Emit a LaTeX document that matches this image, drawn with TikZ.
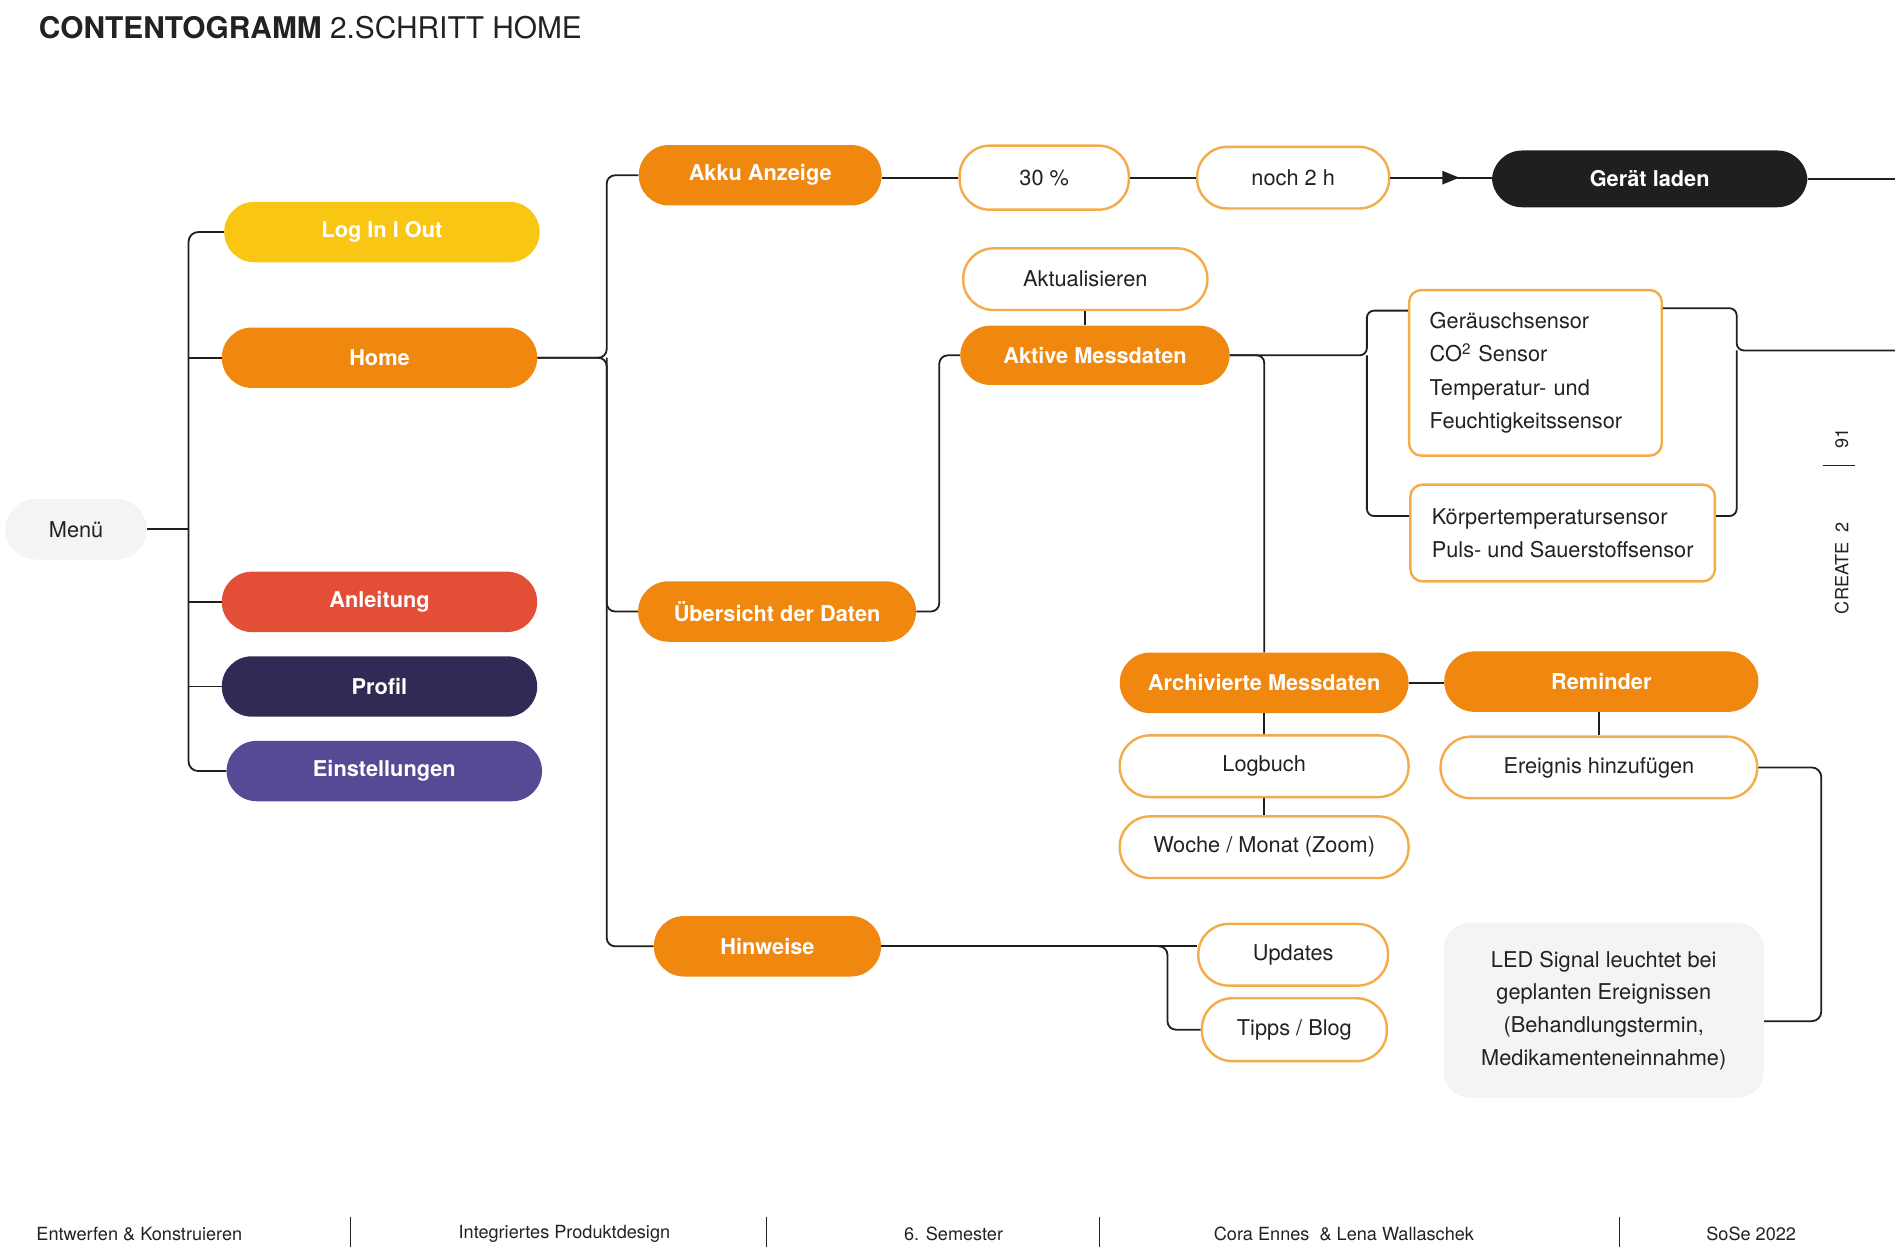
\documentclass[tikz,border=0pt]{standalone}
\usepackage{fontspec}
\setmainfont{TeX Gyre Heros}
\usepackage{tikz}
\usetikzlibrary{arrows.meta, calc, decorations.markings}
\usepackage{xcolor}

\definecolor{cOrange}{HTML}{F0870F}
\definecolor{cYellow}{HTML}{F8C613}
\definecolor{cRed}{HTML}{E24E36}
\definecolor{cNavy}{HTML}{302A55}
\definecolor{cPurple}{HTML}{574993}
\definecolor{cBlack}{HTML}{1F1F1F}
\definecolor{cRand}{HTML}{F4AC4A}
\definecolor{cGrau}{HTML}{F4F4F4}
\definecolor{cText}{HTML}{222222}

\tikzset{
  link/.style={line width=1.5pt, cBlack},
  pill/.style={rectangle, rounded corners=25pt, minimum height=50pt, inner sep=0pt,
    text=white, font=\fontsize{18}{22}\selectfont\bfseries},
  outline/.style={rectangle, rounded corners=25pt, minimum height=51pt, inner sep=0pt,
    draw=cRand, line width=2pt, fill=white, text=cText, font=\fontsize{18}{22}\selectfont},
  sensorbox/.style={rectangle, rounded corners=10pt, draw=cRand, line width=2pt, fill=white,
    align=left, text=cText, font=\fontsize{18}{27.5}\selectfont},
  ledbox/.style={rectangle, rounded corners=22pt, fill=cGrau, align=center, text=cText,
    font=\fontsize{18}{27}\selectfont},
  fuss/.style={font=\fontsize{15}{18}\selectfont, text=cText, inner sep=0pt},
}

\begin{document}
\begin{tikzpicture}[x=1pt, y=-1pt]
  \useasboundingbox (0,0) rectangle (1568,1037);

  % titel
  \node[anchor=base west, inner sep=0pt, text=cText, font=\fontsize{24.7}{28}\selectfont] (titel) at (32,32)
    {\bfseries CONTENTOGRAMM \mdseries 2.SCHRITT HOME};

  % menue
  \node[pill, fill=cGrau, text=cText, font=\fontsize{18}{22}\selectfont, minimum width=117pt] (menu) at (63,438) {Menü};
  \node[pill, fill=cYellow, minimum width=261pt] (login) at (316,192) {Log In I Out};
  \node[pill, fill=cOrange, minimum width=261pt] (home) at (314,296) {Home};
  \node[pill, fill=cRed, minimum width=261pt] (anleitung) at (314,498) {Anleitung};
  \node[pill, fill=cNavy, minimum width=261pt] (profil) at (314,568) {Profil};
  \node[pill, fill=cPurple, minimum width=261pt] (einst) at (318,638) {Einstellungen};

  % home
  \node[pill, fill=cOrange, minimum width=201pt] (akku) at (629,145) {Akku Anzeige};
  \node[pill, fill=cOrange, minimum width=230pt] (uebersicht) at (643,506) {Übersicht der Daten};
  \node[pill, fill=cOrange, minimum width=188pt] (hinweise) at (635,783) {Hinweise};

  % akku
  \node[outline, minimum width=140pt, minimum height=53pt] (prozent) at (864,147) {30 \%};
  \node[outline, minimum width=159pt] (restzeit) at (1070,147) {noch 2 h};
  \node[pill, fill=cBlack, minimum width=261pt, minimum height=47pt] (laden) at (1365,148) {Gerät laden};

  % messdaten
  \node[outline, minimum width=202pt] (aktual) at (898,231) {Aktualisieren};
  \node[pill, fill=cOrange, minimum width=223pt, minimum height=49pt] (aktiv) at (906,294) {Aktive Messdaten};
  \node[sensorbox, text width=175pt, inner xsep=17pt, minimum height=137pt] (sensorA) at (1270.5,308.5)
    {Geräuschsensor\\CO\textsuperscript{2} Sensor\\Temperatur- und\\Feuchtigkeitssensor};
  \node[sensorbox, minimum width=252pt, minimum height=80pt] (sensorB) at (1293,441)
    {Körpertemperatursensor\\Puls- und Sauerstoffsensor};

  \node[pill, fill=cOrange, minimum width=239pt] (archiv) at (1046,565) {Archivierte Messdaten};
  \node[pill, fill=cOrange, minimum width=260pt] (reminder) at (1325,564) {Reminder};
  \node[outline, minimum width=239pt] (logbuch) at (1046,634) {Logbuch};
  \node[outline, minimum width=239pt] (woche) at (1046,701) {Woche / Monat (Zoom)};
  \node[outline, minimum width=262pt] (ereignis) at (1323,635) {Ereignis hinzufügen};
  \node[ledbox, minimum width=265pt, minimum height=145pt] (led) at (1327,836)
    {LED Signal leuchtet bei\\geplanten Ereignissen\\(Behandlungstermin,\\Medikamenteneinnahme)};

  % hinweise
  \node[outline, minimum width=157pt] (updates) at (1070,790) {Updates};
  \node[outline, minimum width=153pt, minimum height=52pt] (tipps) at (1071,852) {Tipps / Blog};

  % knoten
  \coordinate (menuast) at (156,438);
  \coordinate (homeast) at (502,296);
  \coordinate (klammerL) at (1131,294);
  \coordinate (klammerR) at (1437,290);
  \coordinate (randA) at (1568,148);
  \coordinate (randB) at (1568,290);
  \coordinate (ledknick) at (1507,845);
  \coordinate (hinweisast) at (958,783);

  % verbindungen menue
  \draw[link] (menu.east) -- (menuast);
  \draw[link, rounded corners=8pt] (login.west) -- (menuast |- login.west) -- (menuast |- einst.west) -- (einst.west);
  \foreach \n in {home, anleitung, profil}
    \draw[link] (\n.west) -- (\n.west -| menuast);

  % verbindungen home
  \draw[link, rounded corners=7pt] (home.east) -- (homeast) -- (homeast |- akku.west) -- (akku.west);
  \draw[link, rounded corners=7pt] (home.east) -- (homeast) -- (homeast |- hinweise.west) -- (hinweise.west);
  \draw[link, rounded corners=7pt] (homeast) -- (homeast |- uebersicht.west) -- (uebersicht.west);
  \draw[link, rounded corners=7pt] (uebersicht.east) -- ++(19,0) |- (aktiv.west);

  % akku
  \draw[link] (prozent.west) -- (prozent.west -| akku.east);
  \draw[link] (prozent.east) -- (restzeit.west);
  \draw[link, postaction={decorate, decoration={markings,
      mark=at position 0.68 with {\arrow{Triangle[length=14pt, width=11pt]}}}}]
    (restzeit.east) -- (restzeit.east -| laden.west);
  \draw[link] (laden.east) -- (randA);

  % messdaten
  \draw[link] (aktual.south) -- (aktual.south |- aktiv.north);
  \draw[link, rounded corners=6pt] (aktiv.east) -- (klammerL) -- (klammerL |- {$(sensorA.north west)+(0,18)$}) -- ($(sensorA.north west)+(0,18)$);
  \draw[link, rounded corners=6pt] (klammerL) -- (klammerL |- {$(sensorB.north west)+(0,27)$}) -- ($(sensorB.north west)+(0,27)$);
  \draw[link, rounded corners=6pt] ($(sensorA.north east)+(0,16)$) -- (klammerR |- {$(sensorA.north east)+(0,16)$}) -- (klammerR) -- (randB);
  \draw[link, rounded corners=6pt] ($(sensorB.north east)+(0,27)$) -- (klammerR |- {$(sensorB.north east)+(0,27)$}) -- (klammerR);
  \draw[link, rounded corners=6pt] (aktiv.east) -- (archiv.north |- aktiv.east) -- (archiv.north);

  \draw[link] (archiv.east) -- (archiv.east -| reminder.west);
  \draw[link] (archiv.south) -- (logbuch.north);
  \draw[link] (logbuch.south) -- (woche.north);
  \draw[link] (ereignis.north -| 1323,0) -- (reminder.south -| 1323,0);
  \draw[link, rounded corners=8pt] (ereignis.east) -| (ledknick) -- (ledknick -| led.east);

  % hinweise
  \draw[link] (hinweise.east) -- (hinweise.east -| updates.west);
  \draw[link, rounded corners=7pt] (hinweisast) -- ++(8,0) |- (tipps.west);

  % seitenrand
  \node[rotate=90, inner sep=0pt, text=cText, font=\fontsize{15}{18}\selectfont] (seite) at (1524,363) {91};
  \draw[line width=1.2pt, cText] (1508,385) -- (1535,385);
  \node[rotate=90, inner sep=0pt, text=cText, font=\fontsize{15}{18}\selectfont] (create) at (1524,470) {CREATE\ \ 2};

  % fusszeile
  \node[fuss, anchor=west] (fussA) at (30,1021) {Entwerfen \& Konstruieren};
  \node[fuss] (fussB) at (467,1021) {Integriertes Produktdesign};
  \node[fuss] (fussC) at (789,1021) {6. Semester};
  \node[fuss] (fussD) at (1112,1021) {Cora Ennes \ \& Lena Wallaschek};
  \node[fuss] (fussE) at (1449,1021) {SoSe 2022};
  \foreach \x in {290, 634, 910, 1340}
    \draw[line width=1pt, cText] (\x,1007) -- (\x,1032);
\end{tikzpicture}
\end{document}
